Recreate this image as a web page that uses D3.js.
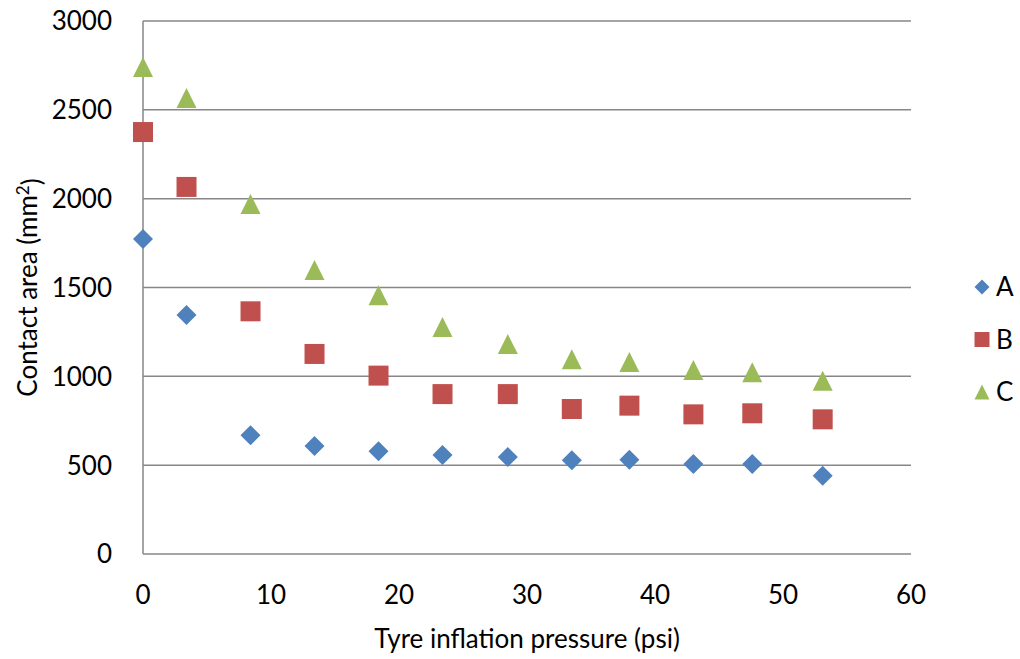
<!DOCTYPE html>
<html>
<head>
<meta charset="utf-8">
<script src="https://cdn.jsdelivr.net/npm/d3@7"></script>
<style>
  body { margin: 0; background: #fff; }
  text { font-family: Lato, "Open Sans", sans-serif; fill: #000; }
</style>
</head>
<body>
<svg id="chart" width="1020" height="659"></svg>
<script>
// tyre inflation pressure (psi)
var pressure = [0, 3.4, 8.4, 13.4, 18.4, 23.4, 28.5, 33.5, 38.0, 43.0, 47.6, 53.1];
// contact area (mm2)
var seriesA = [1773, 1345, 668, 608, 578, 557, 546, 527, 531, 507, 507, 441];
var seriesB = [2375, 2066, 1366, 1126, 1004, 900, 900, 816, 835, 786, 792, 758];
var seriesC = [2741, 2567, 1970, 1598, 1456, 1278, 1182, 1096, 1081, 1036, 1023, 975];
var seriesNames = ["A", "B", "C"];
var xTicks = [0, 10, 20, 30, 40, 50, 60];
var yTicks = [0, 500, 1000, 1500, 2000, 2500, 3000];

var colors = { A: "#4f81bd", B: "#c0504d", C: "#9bbb59" };

// excel style markers, size = width in px
var marker = {
  draw: function(ctx, s) { }
};
var shapes = {
  A: { draw: (ctx, s) => { var h = s / 2; ctx.moveTo(0, -h); ctx.lineTo(h, 0); ctx.lineTo(0, h); ctx.lineTo(-h, 0); ctx.closePath(); } },
  B: { draw: (ctx, s) => { var h = s / 2; ctx.rect(-h, -h, s, s); } },
  C: { draw: (ctx, s) => { var h = s / 2; ctx.moveTo(0, -h); ctx.lineTo(h, h); ctx.lineTo(-h, h); ctx.closePath(); } }
};

var
  plotLeft = 143,
  plotRight = 911,
  plotTop = 21,
  plotBottom = 554,
  fontSize = "26px";

var svg = d3.select("#chart");

var x = d3.scaleLinear().domain([0, 60]).range([plotLeft, plotRight]);
var y = d3.scaleLinear().domain([0, 3000]).range([plotBottom, plotTop]);

// horizontal gridlines
svg.append("g")
  .selectAll("line")
  .data(yTicks)
  .join("line")
  .attr("x1", plotLeft).attr("x2", plotRight)
  .attr("y1", d => y(d)).attr("y2", d => y(d))
  .attr("stroke", "#878787")
  .attr("stroke-width", 1.5);

// y axis line
svg.append("line")
  .attr("x1", plotLeft).attr("x2", plotLeft)
  .attr("y1", plotTop).attr("y2", plotBottom)
  .attr("stroke", "#878787")
  .attr("stroke-width", 1.5);

// y tick labels
svg.append("g")
  .selectAll("text")
  .data(yTicks)
  .join("text")
  .attr("x", plotLeft - 31)
  .attr("y", d => y(d))
  .attr("dy", "0.36em")
  .attr("text-anchor", "end")
  .style("font-size", fontSize)
  .text(d => d);

// x tick labels
svg.append("g")
  .selectAll("text")
  .data(xTicks)
  .join("text")
  .attr("x", d => x(d))
  .attr("y", 604)
  .attr("text-anchor", "middle")
  .style("font-size", fontSize)
  .text(d => d);

// axis titles
svg.append("text")
  .attr("x", 527)
  .attr("y", 648)
  .attr("text-anchor", "middle")
  .style("font-size", fontSize)
  .text("Tyre inflation pressure (psi)");

var yTitle = svg.append("text")
  .attr("transform", "translate(37," + ((plotTop + plotBottom) / 2) + ") rotate(-90)")
  .attr("text-anchor", "middle")
  .style("font-size", fontSize);
yTitle.append("tspan").text("Contact area (mm");
yTitle.append("tspan").attr("dy", "-0.45em").style("font-size", "17px").text("2");
yTitle.append("tspan").attr("dy", "0.45em").text(")");

// points
var allSeries = [seriesA, seriesB, seriesC];
allSeries.forEach(function(vals, i) {
  var name = seriesNames[i];
  svg.append("g")
    .selectAll("path")
    .data(vals)
    .join("path")
    .attr("transform", (d, j) => "translate(" + x(pressure[j]) + "," + y(d) + ")")
    .attr("d", d3.symbol().type(shapes[name]).size(20))
    .attr("fill", colors[name]);
});

// legend
var legend = svg.append("g")
  .selectAll("g")
  .data(seriesNames)
  .join("g")
  .attr("transform", (d, i) => "translate(982," + (287 + i * 52.5) + ")");

legend.append("path")
  .attr("d", d => d3.symbol().type(shapes[d]).size(d == "B" ? 15 : 15)())
  .attr("fill", d => colors[d]);

legend.append("text")
  .attr("x", 14)
  .attr("dy", "0.36em")
  .style("font-size", fontSize)
  .text(d => d);
</script>
</body>
</html>
